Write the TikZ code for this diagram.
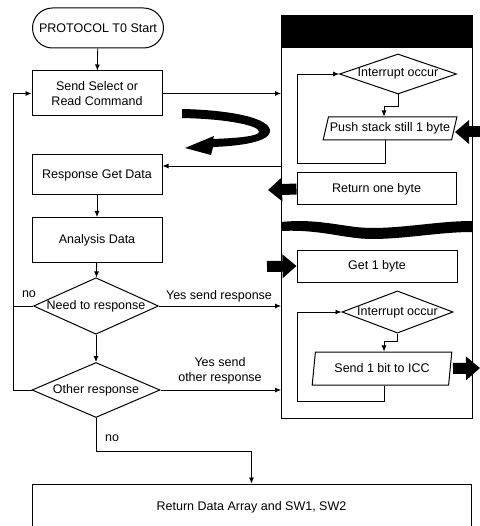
\documentclass[tikz,border=0pt]{standalone}
\usepackage{fontspec}
\setmainfont{Liberation Sans}
\usetikzlibrary{shapes.geometric,arrows.meta,calc}

\begin{document}
\begin{tikzpicture}[x=1pt,y=-1pt,
  every node/.style={font=\fontsize{12.5}{14.5}\selectfont},
  box/.style={draw,line width=1pt,rectangle,inner sep=0pt,align=center},
  term/.style={draw,line width=1pt,rectangle,rounded corners=20pt,inner sep=0pt},
  decision/.style={draw,line width=1pt,diamond,inner sep=0pt},
  io/.style={draw,line width=1pt,trapezium,trapezium stretches=true,inner sep=0pt},
  flow/.style={line width=0.8pt,-{Latex[length=6pt,width=5pt]}},
  plain/.style={line width=0.8pt},
  bigarrow/.style={line width=11pt,-{Triangle[length=14pt,width=23pt]}},
  lbl/.style={inner sep=0pt,align=center},
]
\useasboundingbox (0,0) rectangle (479,526);

% ---------- main flow ----------
\node[term,minimum width=131pt,minimum height=40pt] (start) at (98,28) {PROTOCOL T0 Start};
\node[box,minimum width=130pt,minimum height=45pt] (send) at (97,93.5) {Send Select or\\Read Command};
\node[box,minimum width=130pt,minimum height=40pt] (resp) at (97,175) {Response Get Data};
\node[box,minimum width=130pt,minimum height=45pt] (anal) at (97,240) {Analysis Data};
\node[decision,aspect=2.2,minimum width=125pt,minimum height=56pt] (need) at (96,306) {Need to response};
\node[decision,aspect=2.6,minimum width=128pt,minimum height=55pt] (other) at (96,390) {Other response};
\node[box,minimum width=439pt,minimum height=46pt] (ret) at (251.5,507) {Return Data Array and SW1, SW2};

% ---------- byte-level panel ----------
\node[draw,line width=1pt,rectangle,inner sep=0pt,minimum width=191pt,minimum height=403pt,anchor=north west] (panel) at (281,15) {};
\fill (281,15) rectangle (472,48);

\node[decision,aspect=3,minimum width=117pt,minimum height=40pt] (int1) at (398,74) {Interrupt occur};
\node[io,trapezium left angle=66,trapezium right angle=114,minimum width=134pt,minimum height=23pt] (push) at (390,128.5) {Push stack still 1 byte};
\node[box,minimum width=159pt,minimum height=32pt] (retone) at (376.5,189) {Return one byte};
\node[box,minimum width=160pt,minimum height=32pt] (get1) at (377,266) {Get 1 byte};
\node[decision,aspect=2.6,minimum width=111pt,minimum height=40pt] (int2) at (397.5,312) {Interrupt occur};
\node[io,trapezium left angle=76,trapezium right angle=104,minimum width=140pt,minimum height=33pt] (send1) at (382,368.5) {Send 1 bit to ICC};

% wavy break band across the panel
\fill (281,222) .. controls (320,218) and (345,228) .. (372,228)
      .. controls (405,228) and (440,221) .. (472,221)
      -- (472,232) .. controls (440,232) and (405,239) .. (372,239)
      .. controls (345,239) and (320,229) .. (281,231) -- cycle;

% ---------- connectors, main flow ----------
\draw[flow] (start) -- (send);
\draw[flow] (send.east) -- (send.east -| panel.west);
\draw[flow] ([yshift=9pt]resp.east -| panel.west) -- ([yshift=9pt]resp.east);
\draw[flow] (resp) -- (anal);
\draw[flow] (anal) -- (need);
\draw[flow] (need) -- (other);
\draw[flow] (need.east) -- (need.east -| panel.west);
\draw[flow] (other.east) -- (other.east -| panel.west);

\coordinate (loopL) at (13,390);
\draw[flow] (other.west) -- (loopL) |- (send.west);
\draw[plain] (need.west) -- (need.west -| loopL);
\draw[flow] (other.south) -- ++(0,33) -| (ret.north);

\node[lbl] at (219,296) {Yes send response};
\node[lbl] at (220,371) {Yes send\\other response};
\node[lbl] at (29,294) {no};
\node[lbl] at (112,438) {no};

% ---------- connectors, panel ----------
\coordinate (l1) at (297,163);
\coordinate (l2) at (297,401);
\draw[flow] (int1.south) -- ++(0,12) -| ([xshift=-6pt]push.north);
\draw[flow] ([xshift=-5pt]push.south) |- (l1) |- (int1.west);
\draw[flow] (int2.south) -- ++(0,8) -| ([xshift=2pt]send1.north);
\draw[flow] ([xshift=2pt]send1.south) |- (l2) |- (int2.west);

% heavy transfer arrows
\coordinate (pushIn) at (480,132);
\coordinate (retOut) at (268,190);
\coordinate (getIn) at (267,266.5);
\coordinate (sendOut) at (480,368);
\draw[bigarrow] (pushIn) -- (455,132);
\draw[bigarrow] (retone.west) -- (retOut);
\draw[bigarrow] (getIn) -- (get1.west);
\draw[bigarrow] (send1.east -| 453,0) -- (sendOut);

% curved hand-over arrow
\fill (182,109) .. controls (230,110) and (272,118) .. (270,132)
      .. controls (268,142) and (240,146) .. (213,147)
      -- (211,155) -- (185,148) -- (214,136) -- (213,139)
      .. controls (240,138) and (258,136) .. (259,132)
      .. controls (260,126) and (230,119) .. (182,118) -- cycle;
\end{tikzpicture}
\end{document}
